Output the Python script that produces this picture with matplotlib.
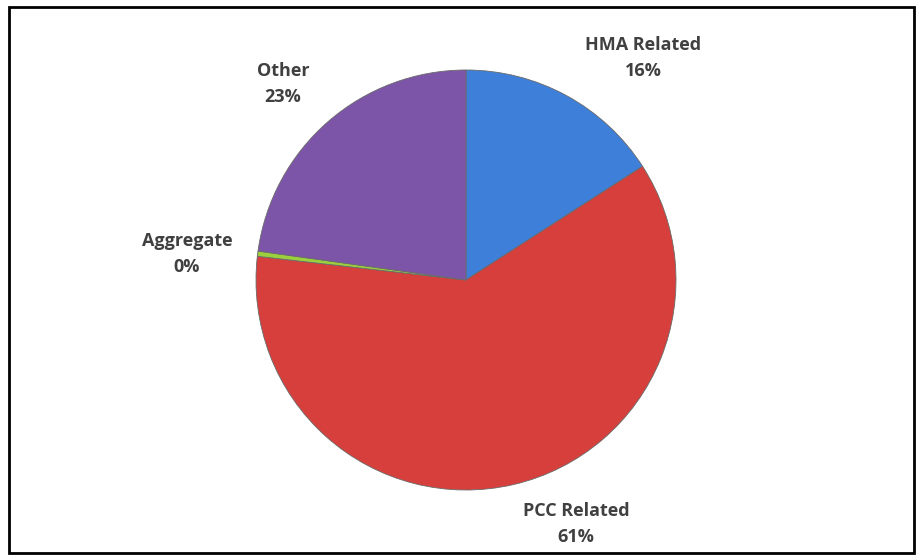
import matplotlib.pyplot as plt
from matplotlib.patches import Rectangle

# data (clockwise from 12 o'clock)
labels = ['HMA Related', 'PCC Related', 'Aggregate', 'Other']
values = [15.9, 60.9, 0.4, 22.8]
colors = ['#3d7fd9', '#d63f3b', '#9ccf3e', '#7d55a8']

# label anchor points (pixel coords, y measured from bottom)
label_xy = [(643, 502), (576, 36), (187, 306), (283, 476)]

fig = plt.figure(figsize=(9.23, 5.6), dpi=100)
ax = fig.add_axes([0, 0, 1, 1])

ax.pie(values, colors=colors, startangle=90, counterclock=False,
       center=(466, 280), radius=210, frame=True,
       wedgeprops=dict(linewidth=0.6, edgecolor='#6a6a6a'))
ax.set_xlim(0, 923)
ax.set_ylim(0, 560)
ax.set_aspect('equal')
ax.axis('off')

total = sum(values)
for lab, v, (x, y) in zip(labels, values, label_xy):
    ax.text(x, y, f'{lab}\n{round(v / total * 100):.0f}%', ha='center', va='center',
            fontsize=13, fontweight='bold', color='#404040', linespacing=1.55,
            family='Open Sans')

# black frame round the picture
fig.patches.append(Rectangle((9 / 923, 7 / 560), 905 / 923, 546 / 560, transform=fig.transFigure,
                             fill=False, edgecolor='black', linewidth=2))

fig.savefig('out.png', dpi=100)
